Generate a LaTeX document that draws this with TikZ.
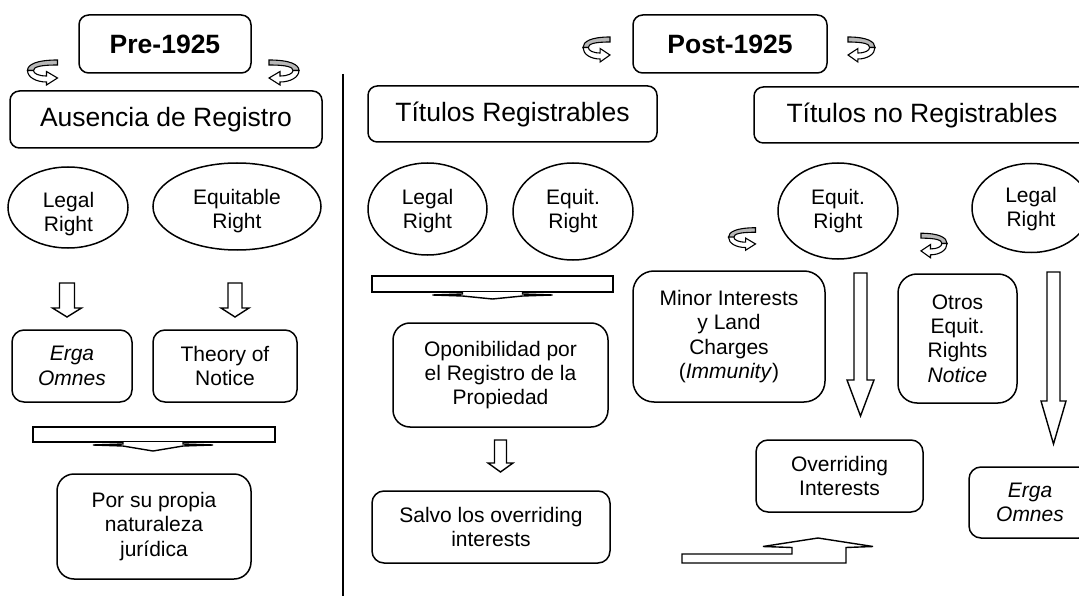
\documentclass[tikz,border=0pt]{standalone}
\usepackage{fontspec}
\setmainfont{Liberation Sans}
\usetikzlibrary{shapes.geometric}

% hollow block arrow pointing down: x, top, head start, tip, shaft half width, head half width
\newcommand\blockdown[6]{%
  \draw[blockarrow] ({#1-#5},#2) -- ({#1+#5},#2) -- ({#1+#5},#3) -- ({#1+#6},#3)
    -- (#1,#4) -- ({#1-#6},#3) -- ({#1-#5},#3) -- cycle;}

% flat "merging" arrow seen edge-on: centre x, left, right, top, bottom, tip
\newcommand\bentdown[6]{%
  \draw[blockarrow] (#2,#4) rectangle (#3,#5);
  \draw[blockarrow] ({#1-30},#5) -- ({#1-30},{#5+2}) -- ({#1-60},{#5+3}) -- ({#1-30},{#5+4})
    -- (#1,#6) -- ({#1+30},{#5+4}) -- ({#1+60},{#5+3}) -- ({#1+30},{#5+2}) -- ({#1+30},#5);}

\tikzset{
  lw/.style={line width=1.5pt},
  smallfont/.style={font=\fontsize{21}{24.3}\selectfont},
  bigfont/.style={font=\fontsize{26.5}{30}\selectfont},
  box/.style={draw, lw, fill=white, rounded corners=#1, inner sep=0pt, align=center, smallfont},
  box/.default=12pt,
  oval/.style={draw, lw, ellipse, inner sep=0pt},
  label text/.style={align=center, inner sep=0pt, smallfont},
  blockarrow/.style={draw, line width=1.4pt, fill=white, line join=miter},
  curl/.pic={
    % back of the ribbon (shaded)
    \draw[line width=1.1pt, fill=black!28]
      (15,-12.5) .. controls (-6,-12.5) and (-15,-8) .. (-15,-2)
      -- (-9,-2) .. controls (-9,-5.5) and (-3,-7.5) .. (15,-7.5) -- cycle;
    % front of the ribbon with its head
    \draw[line width=1.1pt, fill=white, line join=miter]
      (-15,-2) .. controls (-15,5) and (-6,9.5) .. (4,9.5)
      -- (4,12.5) -- (15,5.5) -- (4,-1) -- (4,3.5)
      .. controls (-4,3.5) and (-9,1) .. (-9,-2) -- cycle;
  }
}

\begin{document}
\begin{tikzpicture}[x=1pt, y=-1pt]
\useasboundingbox (0,0) rectangle (1079,596);
\clip (0,0) rectangle (1079,596);

% ---------- left column: before 1925 ----------
\node[box=9.7pt, bigfont, minimum width=172pt, minimum height=58pt] (pre) at (165,44) {\textbf{Pre-1925}};
\pic at (42.5,72.5) {curl};
\pic[xscale=-1] at (284,72.5) {curl};
\node[box=9.5pt, bigfont, minimum width=312pt, minimum height=57pt] (ausencia) at (166,119.5) {Ausencia de Registro};

\node[oval, minimum width=120pt, minimum height=81pt] (legalA) at (68,207.5) {};
\node[label text] (legalAt) at (68.5,214) {Legal\\Right};
\node[oval, minimum width=168pt, minimum height=87pt] (equitA) at (237,206.5) {};
\node[label text] (equitAt) at (237,211) {Equitable\\Right};

\blockdown{67}{283}{308}{317}{7.5}{14.5}
\blockdown{235}{283}{308}{317}{7}{14}

\node[box, minimum width=120pt, minimum height=72pt] (ergaA) at (72,366) {\textit{Erga}\\\textit{Omnes}};
\node[box, minimum width=144pt, minimum height=72pt] (theory) at (225,366) {Theory of\\Notice};

\bentdown{153}{33}{275}{427}{442}{451}

\node[box=17pt, minimum width=194pt, minimum height=105pt] (porsu) at (154,526.5) {Por su propia\\naturaleza\\jurídica};

% column separator
\coordinate (sepTop) at (343,74);
\coordinate (sepBot) at (343,596);
\draw[line width=1.8pt] (sepTop) -- (sepBot);

% ---------- right part: after 1925 ----------
\node[box=9.7pt, bigfont, minimum width=194pt, minimum height=58pt] (post) at (730,44) {\textbf{Post-1925}};
\pic[xscale=0.9] at (596.5,49.5) {curl};
\pic[xscale=-0.9] at (861.5,49.5) {curl};

\node[box=9.3pt, bigfont, minimum width=289pt, minimum height=56pt] (treg) at (512.5,114) {Títulos Registrables};
\node[box=9.3pt, bigfont, minimum width=336pt, minimum height=56pt] (tnoreg) at (922,115) {Títulos no Registrables};

% registrable titles
\node[oval, minimum width=119pt, minimum height=92pt] (legalB) at (427.5,209) {};
\node[label text] (legalBt) at (427.5,211) {Legal\\Right};
\node[oval, minimum width=120pt, minimum height=97pt] (equitB) at (573,211.5) {};
\node[label text] (equitBt) at (573,211) {Equit.\\Right};

\bentdown{492.5}{372}{613}{276}{292}{299}

\node[box=17pt, minimum width=215pt, minimum height=104pt] (opon) at (500.5,375) {Oponibilidad por\\el Registro de la\\Propiedad};
\blockdown{500.5}{440}{463}{472}{6}{12.5}
\node[box, minimum width=238pt, minimum height=72pt] (salvo) at (491,527) {Salvo los overriding\\interests};

% non-registrable titles
\node[oval, minimum width=120pt, minimum height=96pt] (equitC) at (838,211) {};
\node[label text] (equitCt) at (838,211) {Equit.\\Right};
\node[oval, minimum width=118pt, minimum height=89pt] (legalC) at (1031,208) {};
\node[label text] (legalCt) at (1031,209) {Legal\\Right};

\pic[scale=0.9] at (742,239) {curl};
\pic[xscale=-0.87, yscale=0.98] at (934,245.5) {curl};

\node[box=21pt, minimum width=192pt, minimum height=131pt] (minor) at (729,336.5) {Minor Interests\\y Land\\Charges\\(\textit{Immunity})};
\node[box=19pt, minimum width=119pt, minimum height=129pt] (otros) at (957.5,338.5) {Otros\\Equit.\\Rights\\\textit{Notice}};

\blockdown{860.5}{273}{380}{416}{6.5}{13.5}
\blockdown{1053.5}{272}{401}{444}{6.5}{12.5}

\node[box, minimum width=167pt, minimum height=72pt] (overr) at (839.5,476) {Overriding\\Interests};
\node[box, minimum width=122pt, minimum height=71pt] (ergaB) at (1030,502.5) {\textit{Erga}\\\textit{Omnes}};

% flat arrow rising towards the overriding interests
\draw[blockarrow] (682,554) -- (792,554) -- (792,547.5) -- (763,546.5) -- (818,538)
  -- (873,546.5) -- (846,547.5) -- (846,563) -- (682,563) -- cycle;

\end{tikzpicture}
\end{document}
